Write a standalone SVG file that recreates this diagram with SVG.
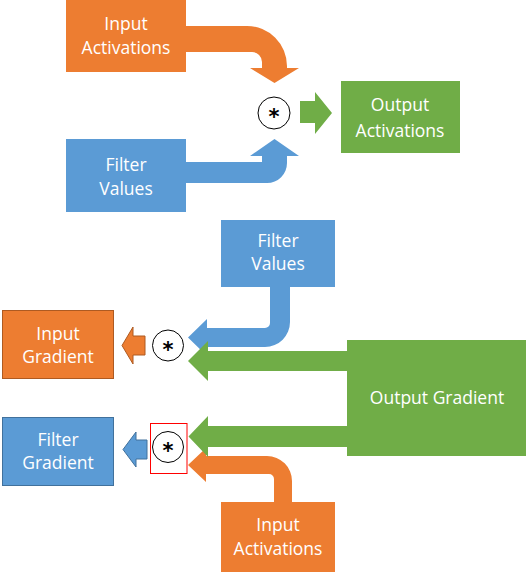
<svg xmlns="http://www.w3.org/2000/svg" width="526" height="572" viewBox="0 0 526 572">
<style>
.t{font-family:"Open Sans","Noto Sans","Liberation Sans",sans-serif;font-size:17.5px;fill:#fff;text-anchor:middle}
.op{font-family:"DejaVu Sans","Liberation Sans",sans-serif;font-size:21px;font-weight:bold;fill:#000;text-anchor:middle}
.or{fill:#ED7D31}
.bl{fill:#5B9BD5}
.gr{fill:#70AD47}
.c{fill:#fff;stroke:#000;stroke-width:1}
</style>
<rect width="526" height="572" fill="#fff"/>
<g id="connectors">
<path class="or" d="M186,26 H247 A40,40 0 0 1 287,66 V68 H299 L274.5,83 L250,68 H262 V62 A10,10 0 0 0 252,52 H186 Z"/>
<path class="bl" d="M186,162 H262 V156 H250 L274.5,139 L299,156 H287 V163 A20,20 0 0 1 267,183 H186 Z"/>
<path class="gr" d="M300,101 H315 V92 L332,113 L315,134 V123 H300 Z"/>
<path class="bl" d="M270,287 H290 V322 A25,25 0 0 1 265,347 H207 V356 L188,337.5 L207,319 V328 H265 A5,5 0 0 0 270,323 Z"/>
<path class="gr" d="M347,351 H208 V341 L188,361 L208,381 V371 H347 Z"/>
<path class="or" d="M292,502 V481 A25,25 0 0 0 267,456 H206 V448 L188,465 L206,482 V474 H269 A5,5 0 0 1 274,479 V502 Z"/>
<path class="gr" d="M347,426 H208 V416 L188.5,436.5 L208,457 V447 H347 Z"/>
<path class="or" stroke="#AE5A21" stroke-width="1" d="M145,336 H133 V327 L122,345.5 L133,364 V355 H145 Z"/>
<path class="bl" stroke="#41719C" stroke-width="1" d="M147,440 H136 V432 L123,449.5 L136,467 V459 H147 Z"/>
</g>
<g id="input-activations-top">
<rect class="or" x="66" y="0" width="120" height="72"/>
<text class="t" x="126" y="30">Input</text>
<text class="t" x="126" y="54">Activations</text>
</g>
<g id="filter-values-top">
<rect class="bl" x="66" y="139" width="120" height="73"/>
<text class="t" x="126" y="171">Filter</text>
<text class="t" x="126" y="195">Values</text>
</g>
<g id="op-top">
<circle class="c" cx="274" cy="113" r="16"/>
<text class="op" x="274" y="124">*</text>
</g>
<g id="output-activations">
<rect class="gr" x="341" y="81" width="119" height="72"/>
<text class="t" x="400" y="111">Output</text>
<text class="t" x="400" y="137">Activations</text>
</g>
<g id="filter-values-bottom">
<rect class="bl" x="221" y="220" width="114" height="67"/>
<text class="t" x="278" y="247">Filter</text>
<text class="t" x="278" y="270">Values</text>
</g>
<g id="input-gradient">
<rect class="or" stroke="#AE5A21" stroke-width="1" x="2.5" y="310.5" width="111" height="68"/>
<text class="t" x="58" y="340">Input</text>
<text class="t" x="58" y="363">Gradient</text>
</g>
<g id="op-mid">
<circle class="c" cx="168" cy="345.5" r="15.5"/>
<text class="op" x="168" y="356.5">*</text>
</g>
<g id="output-gradient">
<rect class="gr" x="347" y="340" width="179" height="116"/>
<text class="t" x="437" y="404">Output Gradient</text>
</g>
<g id="filter-gradient">
<rect class="bl" stroke="#41719C" stroke-width="1" x="2.5" y="417.5" width="111" height="68"/>
<text class="t" x="58" y="446">Filter</text>
<text class="t" x="58" y="469">Gradient</text>
</g>
<g id="op-bottom">
<circle class="c" cx="168" cy="447" r="15.5"/>
<text class="op" x="168" y="458">*</text>
<rect x="150.5" y="423.5" width="36.5" height="50" fill="none" stroke="#FF0000" stroke-width="1"/>
</g>
<g id="input-activations-bottom">
<rect class="or" x="221" y="502" width="114" height="70"/>
<text class="t" x="278" y="531">Input</text>
<text class="t" x="278" y="555">Activations</text>
</g>
</svg>
